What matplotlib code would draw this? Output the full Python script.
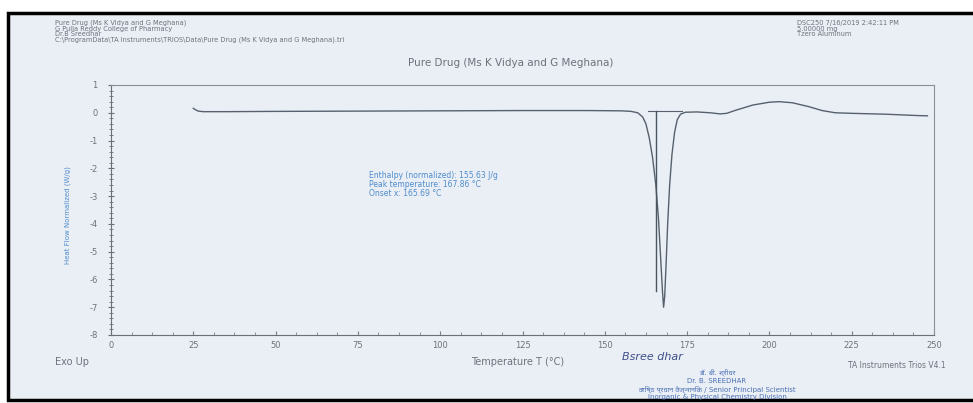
import matplotlib.pyplot as plt
from matplotlib.patches import Rectangle
from matplotlib.ticker import MultipleLocator, AutoMinorLocator

plt.rcParams['axes.unicode_minus'] = False

# DSC curve (temperature in C, heat flow in W/g)
temp = [25.0, 25.5, 26.5, 28, 35, 50, 75, 100, 125, 145, 155, 158, 160,
        161.5, 162.5, 163.5, 164.5, 165.5, 166.3, 167.0, 167.5, 167.86,
        168.2, 168.6, 169.1, 169.7, 170.4, 171.2, 172.0, 173.0, 174.5,
        178, 182, 185, 187, 190, 195, 200, 203, 207, 212, 216, 220, 225,
        235, 245, 248]
heat_flow = [0.16, 0.12, 0.06, 0.04, 0.04, 0.05, 0.06, 0.07, 0.08, 0.08,
             0.07, 0.05, 0.0, -0.15, -0.4, -0.9, -1.6, -2.6, -3.8, -5.3,
             -6.4, -7.0, -6.6, -5.5, -4.0, -2.6, -1.5, -0.7, -0.25, -0.05,
             0.02, 0.03, 0.0, -0.04, -0.02, 0.1, 0.28, 0.38, 0.4, 0.36,
             0.22, 0.08, 0.0, -0.02, -0.05, -0.1, -0.11]

onset = 165.69
peak_temp = 167.86
enthalpy = 155.63

header_left = ["Pure Drug (Ms K Vidya and G Meghana)",
               "G Pulla Reddy College of Pharmacy",
               "Dr.B Sreedhar",
               "C:\\ProgramData\\TA Instruments\\TRIOS\\Data\\Pure Drug (Ms K Vidya and G Meghana).tri"]
header_right = ["DSC250 7/16/2019 2:42:11 PM", "5.00000 mg", "Tzero Aluminum"]
stamp = ["डॉ. बी. श्रीधर", "Dr. B. SREEDHAR",
         "वरिष्ठ प्रधान वैज्ञानिक / Senior Principal Scientist",
         "Inorganic & Physical Chemistry Division"]

W, H = 973, 403
bg = '#eaeef5'
grey = '#6c737d'
blue = '#4f8ccc'

fig = plt.figure(figsize=(W / 100, H / 100), dpi=100)
fig.patch.set_facecolor('white')

# scanned page + black frame
fig.patches.append(Rectangle((8 / W, 3 / H), 1.0, 387 / H, transform=fig.transFigure,
                             facecolor=bg, edgecolor='black', linewidth=2.5, zorder=-10))

ax = fig.add_axes([111 / W, 1 - 335 / H, 823 / W, 250 / H])
ax.set_facecolor(bg)
ax.plot(temp, heat_flow, color='#56616d', linewidth=1.0)

# onset construction lines
ax.plot([163, 173.5], [0.05, 0.05], color='#56616d', linewidth=0.8)
ax.plot([onset, onset], [0.08, -6.4], color='#4b5560', linewidth=1.0)

ax.set_xlim(0, 250)
ax.set_ylim(-8, 1)
ax.xaxis.set_major_locator(MultipleLocator(25))
ax.xaxis.set_minor_locator(AutoMinorLocator(4))
ax.yaxis.set_major_locator(MultipleLocator(1))
ax.yaxis.set_minor_locator(AutoMinorLocator(5))
for s in ax.spines.values():
    s.set_color('#8a9098')
    s.set_linewidth(0.8)
ax.spines['left'].set_color('#6a7078')
ax.spines['bottom'].set_color('#6a7078')
ax.tick_params(axis='x', which='both', direction='in', colors='#7a8088', labelcolor=grey,
               labelsize=6, pad=4, top=False)
ax.tick_params(axis='x', which='major', length=3)
ax.tick_params(axis='x', which='minor', length=2)
ax.tick_params(axis='y', which='both', direction='inout', colors='#6a7078', labelcolor=grey,
               labelsize=6, pad=7, right=False)
ax.tick_params(axis='y', which='major', length=5)
ax.tick_params(axis='y', which='minor', length=3)

ax.text(78.5, -2.1,
        f"Enthalpy (normalized): {enthalpy:.2f} J/g\n"
        f"Peak temperature: {peak_temp:.2f} °C\n"
        f"Onset x: {onset:.2f} °C",
        color=blue, fontsize=5.5, va='top', ha='left', linespacing=1.0)

# page texts
for i, line in enumerate(header_left):
    fig.text(55 / W, 1 - [23, 29, 34.5, 40][i] / H, line, fontsize=4.8, color=grey, va='center')
for i, line in enumerate(header_right):
    fig.text(797 / W, 1 - [23, 29, 34.5][i] / H, line, fontsize=4.8, color=grey, va='center')
fig.text(511 / W, 1 - 63 / H, "Pure Drug (Ms K Vidya and G Meghana)", fontsize=7.5,
         color=grey, ha='center', va='center')
fig.text(68 / W, 1 - 215 / H, "Heat Flow Normalized (W/g)", fontsize=5, color=blue,
         rotation=90, ha='center', va='center')
fig.text(55 / W, 1 - 362 / H, "Exo Up", fontsize=7, color=grey, va='center')
fig.text(518 / W, 1 - 362 / H, "Temperature T (°C)", fontsize=7, color=grey,
         ha='center', va='center')
fig.text(848 / W, 1 - 366 / H, "TA Instruments Trios V4.1", fontsize=5.5, color=grey, va='center')

# signature and stamp
fig.text(652 / W, 1 - 357 / H, "Bsree dhar", fontsize=8, color='#3d4f8a', style='italic',
         ha='center', va='center')
for i, line in enumerate(stamp):
    fig.text(717 / W, 1 - [372, 381, 389, 397][i] / H, line, fontsize=5, color='#4a6fb5',
             ha='center', va='center', family=['DejaVu Sans', 'Noto Sans'])

fig.savefig('out.png', dpi=100, facecolor=fig.get_facecolor())
